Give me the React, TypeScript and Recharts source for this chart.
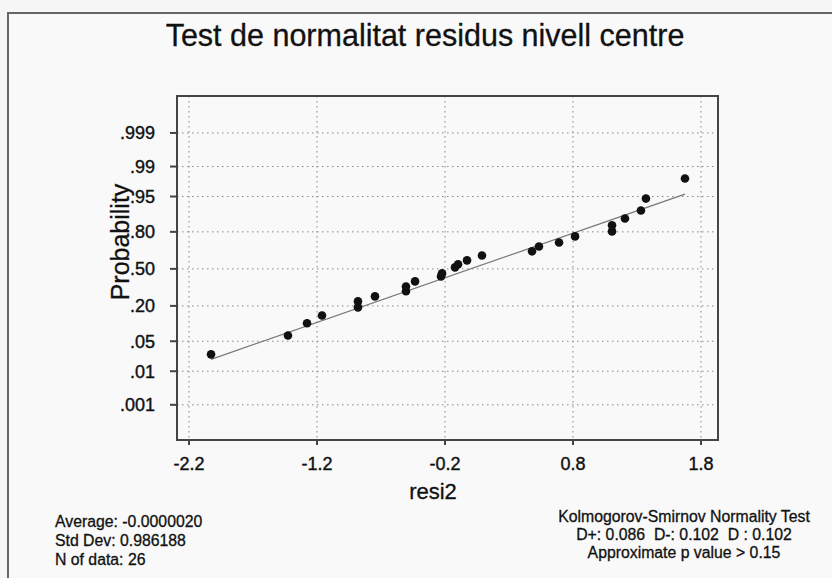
import React from "react"
import { ScatterChart, Scatter, XAxis, YAxis, CartesianGrid, ReferenceLine, ReferenceArea } from "recharts"

// residuals (sorted), with their plotted probability
const residuals = [-2.028, -1.427, -1.278, -1.161, -0.88, -0.88, -0.747, -0.505, -0.505, -0.434, -0.231, -0.223, -0.122, -0.098, -0.028, 0.089, 0.48, 0.534, 0.691, 0.816, 1.105, 1.105, 1.206, 1.331, 1.37, 1.675]
const probabilities = [0.026, 0.065, 0.108, 0.145, 0.191, 0.23, 0.266, 0.305, 0.345, 0.388, 0.432, 0.459, 0.514, 0.541, 0.577, 0.62, 0.655, 0.695, 0.726, 0.77, 0.803, 0.839, 0.874, 0.908, 0.945, 0.98]

const probTicks = [0.001, 0.01, 0.05, 0.2, 0.5, 0.8, 0.95, 0.99, 0.999]
const probTickLabels = [".001", ".01", ".05", ".20", ".50", ".80", ".95", ".99", ".999"]
const xTicks = [-2.2, -1.2, -0.2, 0.8, 1.8]

const average = -0.000002
const stdDev = 0.986188
const nData = 26

const FONT = "'Liberation Sans', Arial, Helvetica, sans-serif"

// inverse normal cdf (Acklam), used as the probability axis scale
function probit(p: number) {
  const a = [-39.69683028665376, 220.9460984245205, -275.9285104469687, 138.357751867269, -30.66479806614716, 2.506628277459239]
  const b = [-54.47609879822406, 161.5858368580409, -155.6989798598866, 66.80131188771972, -13.28068155288572]
  const c = [-0.007784894002430293, -0.3223964580411365, -2.400758277161838, -2.549732539343734, 4.374664141464968, 2.938163982698783]
  const d = [0.007784695709041462, 0.3224671290700398, 2.445134137142996, 3.754408661907416]
  const pl = 0.02425
  if (p < pl) {
    const q = Math.sqrt(-2 * Math.log(p))
    return (((((c[0] * q + c[1]) * q + c[2]) * q + c[3]) * q + c[4]) * q + c[5]) / ((((d[0] * q + d[1]) * q + d[2]) * q + d[3]) * q + 1)
  }
  if (p > 1 - pl) {
    const q = Math.sqrt(-2 * Math.log(1 - p))
    return -(((((c[0] * q + c[1]) * q + c[2]) * q + c[3]) * q + c[4]) * q + c[5]) / ((((d[0] * q + d[1]) * q + d[2]) * q + d[3]) * q + 1)
  }
  const q = p - 0.5
  const r = q * q
  return ((((((a[0] * r + a[1]) * r + a[2]) * r + a[3]) * r + a[4]) * r + a[5]) * q) / (((((b[0] * r + b[1]) * r + b[2]) * r + b[3]) * r + b[4]) * r + 1)
}

const points = residuals.map((x, i) => ({ x, z: probit(probabilities[i]) }))
const yTicks = probTicks.map(probit)
const xDomain = [-2.294, 1.933]
const yDomain = [-3.89, 3.93]

const xMin = Math.min(...residuals)
const xMax = Math.max(...residuals)
const fitLine = [
  { x: xMin, y: (xMin - average) / stdDev },
  { x: xMax, y: (xMax - average) / stdDev },
]

const formatProb = (v: number) => {
  const i = yTicks.findIndex((t) => Math.abs(t - v) < 1e-6)
  return i >= 0 ? probTickLabels[i] : ""
}

const Dot = (props: any) => <circle cx={props.cx} cy={props.cy} r={4.3} fill="#111" />

const txt: React.CSSProperties = {
  position: "absolute",
  fontFamily: FONT,
  color: "#111",
  whiteSpace: "nowrap",
  lineHeight: 1,
  WebkitTextStroke: "0.3px #111",
}

const tickStyle = { fill: "#111", fontSize: 18, fontFamily: FONT, stroke: "#111", strokeWidth: 0.4 }

export default function App() {
  return (
    <div style={{ position: "fixed", left: 0, top: 0, width: 832, height: 578, background: "#f6f6f6", overflow: "hidden" }}>
      <div style={{ position: "absolute", left: 7, top: 12, width: 900, height: 700, borderLeft: "2px solid #666", borderTop: "2px solid #666", background: "#f9f9f9" }} />
      <div style={{ position: "absolute", left: 0, top: 0 }}>
        <ScatterChart width={832} height={578} margin={{ top: 96, right: 114, bottom: 88, left: 117 }}>
          <CartesianGrid stroke="#888" strokeDasharray="1.5 3.5" />
          <XAxis
            type="number"
            dataKey="x"
            domain={xDomain}
            ticks={xTicks}
            allowDataOverflow
            height={50}
            tickSize={5}
            tickMargin={12}
            axisLine={false}
            tickLine={{ stroke: "#444", strokeWidth: 2 }}
            tick={tickStyle}
            tickFormatter={(v: number) => v.toFixed(1)}
          />
          <YAxis
            type="number"
            dataKey="z"
            domain={yDomain}
            ticks={yTicks}
            allowDataOverflow
            width={60}
            tickSize={7}
            tickMargin={15}
            axisLine={false}
            tickLine={{ stroke: "#444", strokeWidth: 2 }}
            tick={tickStyle}
            tickFormatter={formatProb}
          />
          <ReferenceArea x1={xDomain[0]} x2={xDomain[1]} y1={yDomain[0]} y2={yDomain[1]} fill="none" stroke="#444" strokeWidth={2} fillOpacity={0} ifOverflow="visible" />
          <ReferenceLine segment={fitLine} stroke="#777" strokeWidth={1.3} ifOverflow="visible" />
          <Scatter data={points} shape={Dot} isAnimationActive={false} />
        </ScatterChart>
      </div>
      <div style={{ ...txt, left: 425, top: 35, transform: "translate(-50%, -50%)", fontSize: 30.5 }}>Test de normalitat residus nivell centre</div>
      <div style={{ ...txt, left: 120, top: 242, transform: "translate(-50%, -50%) rotate(-90deg)", fontSize: 25 }}>Probability</div>
      <div style={{ ...txt, left: 433, top: 492, transform: "translate(-50%, -50%)", fontSize: 22 }}>resi2</div>
      <div style={{ ...txt, left: 55, top: 512, fontSize: 15.8, lineHeight: "19px" }}>
        <div>Average: {average.toFixed(7)}</div>
        <div>Std Dev: {stdDev.toFixed(6)}</div>
        <div>N of data: {nData}</div>
      </div>
      <div style={{ ...txt, left: 684, top: 508, transform: "translateX(-50%)", fontSize: 15.8, lineHeight: "18px", textAlign: "center" }}>
        <div>Kolmogorov-Smirnov Normality Test</div>
        <div>D+: 0.086&nbsp; D-: 0.102&nbsp; D : 0.102</div>
        <div>Approximate p value &gt; 0.15</div>
      </div>
    </div>
  )
}
